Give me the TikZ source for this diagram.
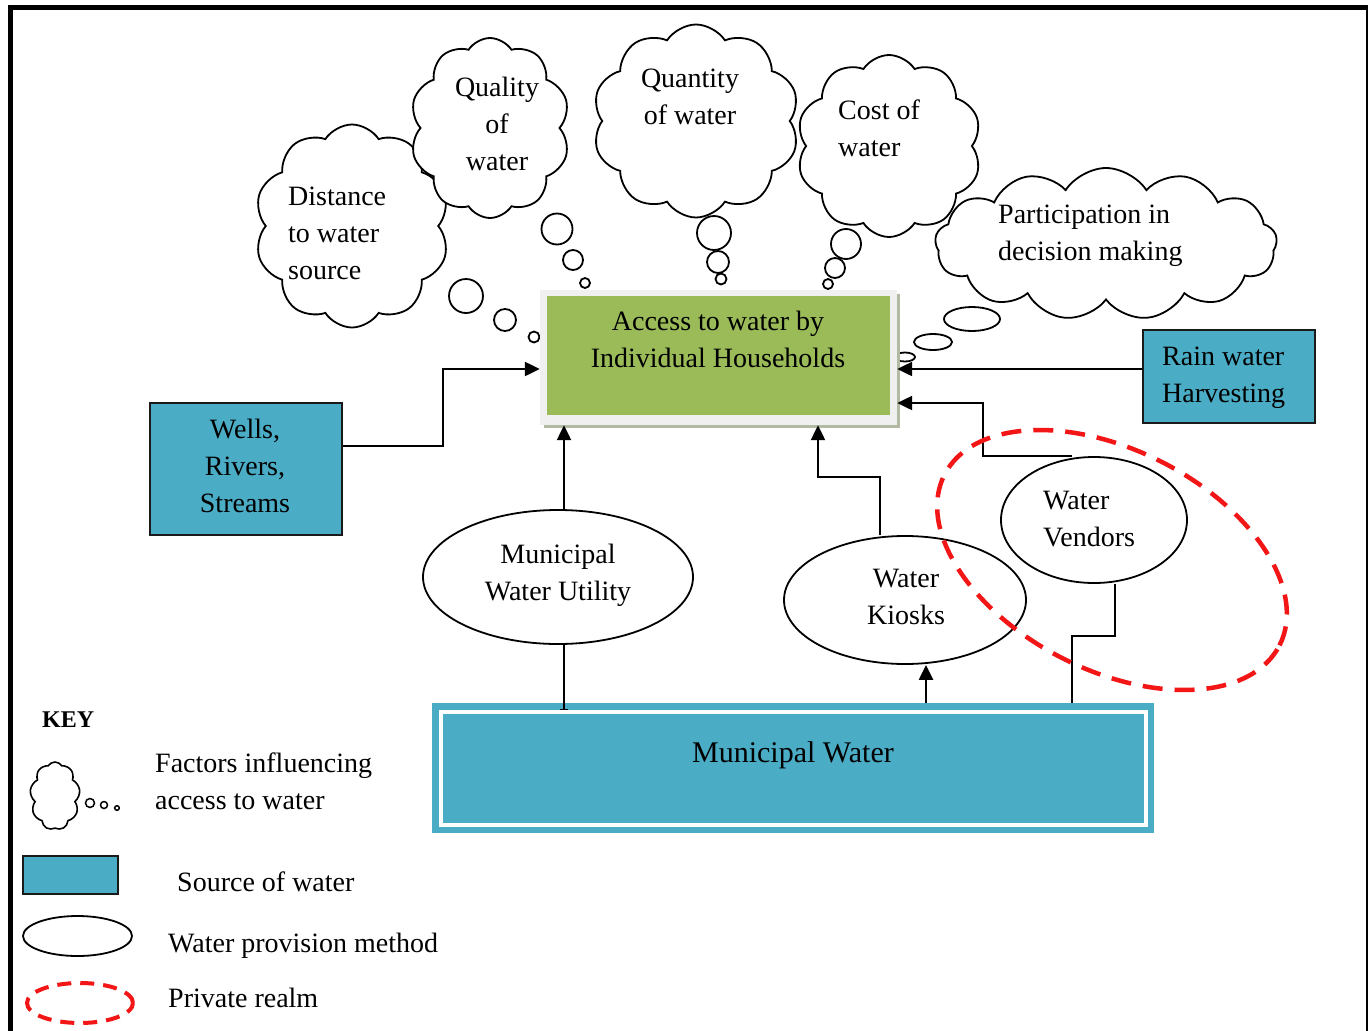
\documentclass[tikz,border=0pt]{standalone}
\usepackage{fontspec}
\setmainfont{Liberation Serif}
\usetikzlibrary{shapes.geometric,shapes.symbols,arrows.meta,calc}
\definecolor{teal1}{HTML}{4BACC6}
\definecolor{grn}{HTML}{9BBB59}
\definecolor{acclight}{HTML}{F0F0F0}
\definecolor{accshadow}{HTML}{B2BAA2}
\definecolor{red1}{HTML}{F21616}
\definecolor{edge}{HTML}{1A1A1A}
\begin{document}
\begin{tikzpicture}[x=1pt,y=-1pt,
  txt/.style={font=\fontsize{28pt}{37pt}\selectfont, inner sep=0pt},
  cloudbox/.style={cloud, draw, fill=white, line width=1.8pt, cloud puffs=10, cloud puff arc=115, cloud ignores aspect, inner sep=0pt},
  bub/.style={draw, fill=white, line width=1.8pt},
  srcbox/.style={rectangle, draw=edge, fill=teal1, line width=1.8pt, font=\fontsize{28pt}{37pt}\selectfont, align=center, inner sep=0pt},
  method/.style={ellipse, draw, fill=white, line width=1.8pt, font=\fontsize{28pt}{37pt}\selectfont, inner sep=0pt},
  private/.style={ellipse, draw=red1, line width=4.5pt, dash pattern=on 20pt off 12pt},
  conn/.style={line width=2.3pt},
  arr/.style={conn, -{Triangle[length=15pt,width=14pt]}}
]
\useasboundingbox (0,0) rectangle (1369,1031);
\fill[white] (0,0) rectangle (1369,1031);

% frame
\draw[line width=5pt] (8,7.5) -- (1368,7.5);
\draw[line width=5pt] (10.5,5) -- (10.5,1031);
\draw[line width=2.5pt] (1367,6) -- (1367,1031);

% clouds
\node[cloudbox, minimum width=195pt, minimum height=203pt] (cdist) at (352,226) {};
\node[cloudbox, minimum width=160pt, minimum height=180pt] (cqual) at (490,128) {};
\node[cloudbox, minimum width=207pt, minimum height=193pt] (cquant) at (696,121) {};
\node[cloudbox, minimum width=185pt, minimum height=182pt] (ccost) at (889,146) {};
\node[cloudbox, minimum width=342pt, minimum height=152pt, cloud puffs=13] (cpart) at (1106,244) {};

\node[txt, align=left, anchor=west] (tdist) at (288,233) {Distance\\to water\\source};
\node[txt, align=center] (tqual) at (497,124) {Quality\\of\\water};
\node[txt, align=center] (tquant) at (690,97) {Quantity\\of water};
\node[txt, align=left, anchor=west] (tcost) at (838,128) {Cost of\\water};
\node[txt, align=left, anchor=west] (tpart) at (998,236) {Participation in\\decision making};

% thought bubbles
\draw[bub] (466,296) circle[radius=17];
\draw[bub] (505,320) circle[radius=11];
\draw[bub] (534,337) circle[radius=5.5];
\draw[bub] (557,229) circle[radius=15.5];
\draw[bub] (573,260) circle[radius=10];
\draw[bub] (585,283) circle[radius=5];
\draw[bub] (714,233) circle[radius=17];
\draw[bub] (718,262) circle[radius=11];
\draw[bub] (721,279) circle[radius=5.5];
\draw[bub] (846,244) circle[radius=15];
\draw[bub] (835,268) circle[radius=10];
\draw[bub] (828,284) circle[radius=5];
\draw[bub] (972,319) ellipse[x radius=28, y radius=12];
\draw[bub] (933,342) ellipse[x radius=19, y radius=8];
\draw[bub] (905,357) ellipse[x radius=10, y radius=4.5];

% central box
\fill[accshadow] (544,294) rectangle (900,428);
\node[fill=acclight, minimum width=357pt, minimum height=135pt, inner sep=0pt] (access) at (718.5,357.5) {};
\node[fill=grn, minimum width=343pt, minimum height=119pt, inner sep=0pt] (accin) at (718.5,355) {};
\node[txt, align=center] (acctxt) at (718,339) {Access to water by\\Individual Households};

% sources
\node[srcbox, minimum width=192pt, minimum height=132pt] (wells) at (246,469) {};
\node[txt, align=center] (wellstxt) at (245,466) {Wells,\\Rivers,\\Streams};
\node[srcbox, minimum width=172pt, minimum height=93pt] (rain) at (1229,376.5) {};
\node[txt, align=left, anchor=west] (raintxt) at (1162,378) {Rain water\\Harvesting};
\node[fill=teal1, minimum width=722pt, minimum height=130pt, inner sep=0pt] (mw) at (793,768) {};
\node[draw=white, line width=4pt, minimum width=705pt, minimum height=113pt, inner sep=0pt] (mwin) at (793.5,768.5) {};
\node[inner sep=0pt, font=\fontsize{30pt}{37pt}\selectfont] (mwtxt) at (793,755) {Municipal Water};

% provision methods
\node[method, minimum width=270pt, minimum height=134pt] (util) at (558,577) {};
\node[txt, align=center] (utiltxt) at (558,575) {Municipal\\Water Utility};
\node[method, minimum width=242pt, minimum height=128pt] (kiosk) at (905,600) {};
\node[txt, align=center] (kiosktxt) at (906,597) {Water\\Kiosks};
\node[method, minimum width=186pt, minimum height=126pt] (vend) at (1094,520) {};
\node[txt, align=left, anchor=west] (vendtxt) at (1043,519) {Water\\Vendors};

% connectors
\draw[arr] ([yshift=23pt]wells.east) -- ++(100,0) |- ([yshift=-11.5pt]access.west);
\draw[arr] ([xshift=6pt]util.north) -- ([xshift=6pt]util.north |- access.south);
\draw[conn, -{Bar[width=8pt,line width=1.5pt]}] ([xshift=6pt]util.south) -- ([xshift=6pt]util.south |- mwin.north);
\draw[arr] ([xshift=21pt]kiosk.south |- mw.north) -- ([xshift=21pt]kiosk.south);
\draw[arr] ([xshift=-25pt]kiosk.north) -- ++(0,-58) -| ([xshift=99.5pt]access.south);
\draw[conn] ([xshift=279pt]mw.north) -- ++(0,-67) -| ([xshift=21pt]vend.south);
\draw[arr] ([xshift=-22pt]vend.north) -- ++(-89,0) |- ([yshift=-45.5pt]access.east);
\draw[arr] ([yshift=7.5pt]rain.west) -- ([yshift=7.5pt]rain.west -| access.east);

% private realm
\node[private, minimum width=376pt, minimum height=220pt, rotate=-27] (priv) at (1112,560) {};

% key
\node[inner sep=0pt, anchor=west, font=\fontsize{24pt}{30pt}\selectfont\bfseries] (key) at (42,720) {KEY};
\node[cloudbox, minimum width=50pt, minimum height=68pt, cloud puffs=9, line width=1.6pt] (kcloud) at (55,796) {};
\draw[bub, line width=1.5pt] (90,803) circle[radius=4.5];
\draw[bub, line width=1.5pt] (104,805) circle[radius=3.5];
\draw[bub, line width=1.5pt] (117,808) circle[radius=2.3];
\node[txt, align=left, anchor=west] (kt1) at (155,781.5) {Factors influencing\\access to water};
\node[srcbox, minimum width=95pt, minimum height=38pt] (krect) at (70.5,875) {};
\node[txt, anchor=west] (kt2) at (177,882) {Source of water};
\node[method, minimum width=109pt, minimum height=40pt] (kell) at (77.5,936) {};
\node[txt, anchor=west] (kt3) at (168,946) {Water provision method};
\node[ellipse, draw=red1, line width=4pt, dash pattern=on 14pt off 9pt, minimum width=106pt, minimum height=40pt] (kpriv) at (80,1003) {};
\node[txt, anchor=west] (kt4) at (168,998) {Private realm};
\end{tikzpicture}
\end{document}
